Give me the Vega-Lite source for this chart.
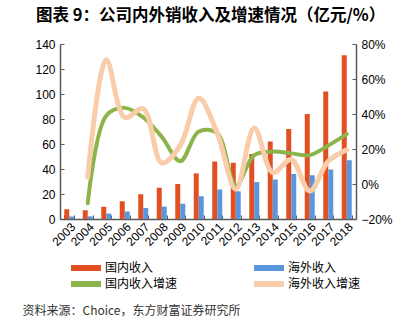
{
  "$schema": "https://vega.github.io/schema/vega-lite/v6.json",
  "padding": {"left": 22, "top": 7, "right": 5, "bottom": 5},
  "background": "white",
  "width": 296,
  "height": 175,
  "title": {
    "text": "图表 9：公司内外销收入及增速情况（亿元/%）",
    "anchor": "start",
    "frame": "bounds",
    "font": "Noto Sans CJK SC",
    "fontSize": 16.5,
    "fontWeight": "bold",
    "color": "#000000",
    "dx": 14,
    "offset": 14
  },
  "datasets": {
    "rev": [
      {"year": "2003", "series": "国内收入", "value": 7.8},
      {"year": "2004", "series": "国内收入", "value": 7.0},
      {"year": "2005", "series": "国内收入", "value": 9.8},
      {"year": "2006", "series": "国内收入", "value": 14.2},
      {"year": "2007", "series": "国内收入", "value": 19.8},
      {"year": "2008", "series": "国内收入", "value": 25},
      {"year": "2009", "series": "国内收入", "value": 28},
      {"year": "2010", "series": "国内收入", "value": 36.5},
      {"year": "2011", "series": "国内收入", "value": 46},
      {"year": "2012", "series": "国内收入", "value": 45},
      {"year": "2013", "series": "国内收入", "value": 52},
      {"year": "2014", "series": "国内收入", "value": 62},
      {"year": "2015", "series": "国内收入", "value": 72},
      {"year": "2016", "series": "国内收入", "value": 84},
      {"year": "2017", "series": "国内收入", "value": 102},
      {"year": "2018", "series": "国内收入", "value": 131},
      {"year": "2003", "series": "海外收入", "value": 2.0},
      {"year": "2004", "series": "海外收入", "value": 2.1},
      {"year": "2005", "series": "海外收入", "value": 4.4},
      {"year": "2006", "series": "海外收入", "value": 6.0},
      {"year": "2007", "series": "海外收入", "value": 8.8},
      {"year": "2008", "series": "海外收入", "value": 9.9},
      {"year": "2009", "series": "海外收入", "value": 12.2},
      {"year": "2010", "series": "海外收入", "value": 18.2},
      {"year": "2011", "series": "海外收入", "value": 23.6},
      {"year": "2012", "series": "海外收入", "value": 22.2},
      {"year": "2013", "series": "海外收入", "value": 29.5},
      {"year": "2014", "series": "海外收入", "value": 31.6},
      {"year": "2015", "series": "海外收入", "value": 36},
      {"year": "2016", "series": "海外收入", "value": 35},
      {"year": "2017", "series": "海外收入", "value": 39.6},
      {"year": "2018", "series": "海外收入", "value": 47}
    ],
    "dom": [
      {"year": "2004", "series": "国内收入增速", "rate": -0.11},
      {"year": "2005", "series": "国内收入增速", "rate": 0.39},
      {"year": "2006", "series": "国内收入增速", "rate": 0.435},
      {"year": "2007", "series": "国内收入增速", "rate": 0.38},
      {"year": "2008", "series": "国内收入增速", "rate": 0.27},
      {"year": "2009", "series": "国内收入增速", "rate": 0.13},
      {"year": "2010", "series": "国内收入增速", "rate": 0.30},
      {"year": "2011", "series": "国内收入增速", "rate": 0.29},
      {"year": "2012", "series": "国内收入增速", "rate": -0.01},
      {"year": "2013", "series": "国内收入增速", "rate": 0.165},
      {"year": "2014", "series": "国内收入增速", "rate": 0.185},
      {"year": "2015", "series": "国内收入增速", "rate": 0.175},
      {"year": "2016", "series": "国内收入增速", "rate": 0.165},
      {"year": "2017", "series": "国内收入增速", "rate": 0.22},
      {"year": "2018", "series": "国内收入增速", "rate": 0.285}
    ],
    "ovs": [
      {"year": "2004", "series": "海外收入增速", "rate": 0.04},
      {"year": "2005", "series": "海外收入增速", "rate": 0.71},
      {"year": "2006", "series": "海外收入增速", "rate": 0.38},
      {"year": "2007", "series": "海外收入增速", "rate": 0.43},
      {"year": "2008", "series": "海外收入增速", "rate": 0.12},
      {"year": "2009", "series": "海外收入增速", "rate": 0.22},
      {"year": "2010", "series": "海外收入增速", "rate": 0.49},
      {"year": "2011", "series": "海外收入增速", "rate": 0.29},
      {"year": "2012", "series": "海外收入增速", "rate": -0.03},
      {"year": "2013", "series": "海外收入增速", "rate": 0.32},
      {"year": "2014", "series": "海外收入增速", "rate": 0.065},
      {"year": "2015", "series": "海外收入增速", "rate": 0.14},
      {"year": "2016", "series": "海外收入增速", "rate": -0.04},
      {"year": "2017", "series": "海外收入增速", "rate": 0.13},
      {"year": "2018", "series": "海外收入增速", "rate": 0.195}
    ]
  },
  "layer": [
    {
      "data": {"name": "rev"},
      "mark": {"type": "bar"},
      "encoding": {
        "x": {
          "field": "year", "type": "nominal",
          "scale": {"paddingInner": 0.46, "paddingOuter": 0.23},
          "axis": {
            "title": "资料来源：Choice，东方财富证券研究所",
            "titleFont": "Noto Sans CJK SC", "titleFontSize": 12, "titleFontWeight": "normal",
            "titleColor": "#333333", "titleAnchor": "start", "titleAlign": "left", "titleBaseline": "middle",
            "titleX": -38, "titleY": 91,
            "labelAngle": -45, "tickBand": "extent",
            "tickSize": -4, "labelPadding": 6
          }
        },
        "xOffset": {"field": "series", "type": "nominal", "scale": {"domain": ["国内收入", "海外收入"]}},
        "y": {
          "field": "value", "type": "quantitative",
          "scale": {"domain": [0, 140]},
          "axis": {"title": null, "values": [0, 20, 40, 60, 80, 100, 120, 140], "tickSize": -4, "labelPadding": 9, "orient": "left", "labelOverlap": false}
        },
        "color": {
          "field": "series", "type": "nominal",
          "scale": {
            "domain": ["国内收入", "海外收入", "国内收入增速", "海外收入增速"],
            "range": ["#E14F22", "#5B95DC", "#8DB44A", "#FACDAA"]
          },
          "legend": {
            "orient": "none", "legendX": 0, "legendY": 218,
            "columns": 2, "direction": "horizontal", "title": null,
            "symbolType": "M-5,-1H5V1H-5Z", "symbolSize": 36, "symbolStrokeWidth": 0,
            "symbolOffset": 20,
            "labelFont": "Noto Sans CJK SC", "labelFontSize": 12, "labelColor": "#000000",
            "columnPadding": 65, "rowPadding": 4, "labelOffset": 13,
            "encode": {"symbols": {"update": {"fill": {"scale": "color", "field": "value"}, "fillOpacity": {"value": 1}, "strokeWidth": {"value": 0}}}}
          }
        }
      }
    },
    {
      "data": {"name": "dom"},
      "mark": {"type": "line", "interpolate": "catmull-rom", "strokeWidth": 4, "strokeCap": "round"},
      "encoding": {
        "x": {"field": "year", "type": "nominal"},
        "y": {
          "field": "rate", "type": "quantitative",
          "scale": {"domain": [-0.2, 0.8]},
          "axis": {"title": null, "orient": "right", "format": ".0%", "values": [-0.2, 0, 0.2, 0.4, 0.6, 0.8], "tickSize": -4, "labelPadding": 9, "labelOverlap": false}
        },
        "color": {"field": "series", "type": "nominal"}
      }
    },
    {
      "data": {"name": "ovs"},
      "mark": {"type": "line", "interpolate": "catmull-rom", "strokeWidth": 5, "strokeCap": "round"},
      "encoding": {
        "x": {"field": "year", "type": "nominal"},
        "y": {"field": "rate", "type": "quantitative", "scale": {"domain": [-0.2, 0.8]}, "axis": null},
        "color": {"field": "series", "type": "nominal"}
      }
    }
  ],
  "resolve": {"scale": {"y": "independent"}},
  "config": {
    "view": {"stroke": null},
    "axis": {
      "labelFont": "Liberation Sans",
      "labelFontSize": 12,
      "labelColor": "#000000",
      "domainColor": "#595959",
      "domainWidth": 1.5,
      "tickColor": "#595959",
      "grid": false
    }
  }
}
